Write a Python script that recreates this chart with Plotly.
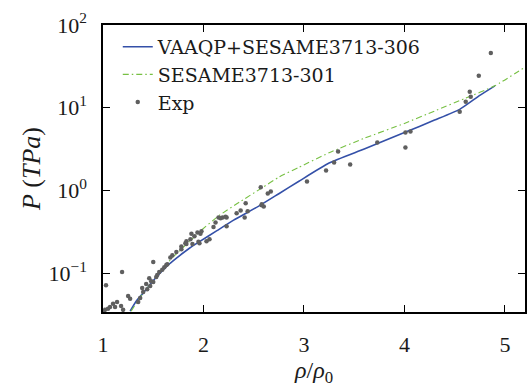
import plotly.graph_objects as go

# VAAQP+SESAME3713-306 curve
vaaqp_x = [1.27, 1.33, 1.40, 1.48, 1.56, 1.66, 1.76, 1.86, 1.96, 2.13, 2.30, 2.55, 2.75,
           2.95, 3.25, 3.60, 4.00, 4.30, 4.55, 4.75, 4.90]
vaaqp_y = [0.0347, 0.0457, 0.0575, 0.0759, 0.0977, 0.129, 0.162, 0.200, 0.240, 0.324, 0.437,
           0.646, 0.912, 1.29, 2.14, 3.16, 5.01, 7.08, 9.55, 14.1, 18.4]

# SESAME3713-301 curve
ses_x = [1.28, 1.40, 1.52, 1.64, 1.76, 1.86, 1.96, 2.16, 2.36, 2.58, 2.75, 2.95, 3.25,
         3.60, 4.00, 4.30, 4.60, 4.90, 5.20]
ses_y = [0.0347, 0.0575, 0.0871, 0.132, 0.186, 0.240, 0.316, 0.501, 0.724, 1.07, 1.445,
         1.905, 2.85, 4.27, 6.46, 9.12, 12.9, 18.4, 30.9]

# Experimental points
exp_x = [4.86, 4.74, 4.65, 4.66, 4.61, 4.55, 4.06, 4.01, 4.01, 3.73, 3.34, 3.30, 3.46, 3.22, 3.03,
         2.57, 2.67, 2.64, 2.58, 2.60, 2.42, 2.44, 2.37, 2.33, 2.41, 2.19, 2.23, 2.15, 2.22, 2.17,
         2.23, 2.12, 2.10, 1.98, 1.94, 1.97, 1.88, 1.91, 1.87, 2.06, 2.03, 1.95, 1.96, 1.83, 1.83,
         1.89, 1.78, 1.73, 1.69, 1.67,
         1.82, 1.78, 1.64, 1.50, 1.61, 1.56, 1.53, 1.50, 1.47, 1.44, 1.40, 1.39, 1.37, 1.35, 1.25,
         1.27, 1.19, 1.03, 1.14, 1.10, 1.12, 1.07, 1.05, 1.02, 1.20, 1.00, 1.18, 1.46, 1.43, 1.59,
         1.63, 1.54, 1.48, 2.58]
exp_y = [46, 24.3, 15.6, 13.6, 11.8, 8.95, 5.14, 5.0, 3.3, 3.79, 2.95, 2.17, 2.06, 1.74, 1.28,
         1.09, 0.97, 0.92, 0.66, 0.64, 0.70, 0.56, 0.57, 0.53, 0.47, 0.47, 0.47, 0.47, 0.48, 0.46,
         0.37, 0.41, 0.36, 0.32, 0.31, 0.30, 0.30, 0.28, 0.257, 0.257, 0.243, 0.24, 0.23, 0.243, 0.225,
         0.225, 0.195, 0.18, 0.165, 0.155,
         0.23, 0.21, 0.128, 0.136, 0.118, 0.103, 0.0895, 0.078, 0.0697, 0.064, 0.059, 0.066, 0.050,
         0.0448, 0.053, 0.049, 0.103, 0.0716, 0.0448, 0.0426, 0.039, 0.039, 0.037, 0.036, 0.036,
         0.0345, 0.040, 0.087, 0.074, 0.11, 0.125, 0.095, 0.08, 0.68]

x_ticks = [1, 2, 3, 4, 5]
y_ticks = [0.1, 1, 10, 100]
y_ticktext = ["10<sup>−1</sup>", "10<sup>0</sup>", "10<sup>1</sup>", "10<sup>2</sup>"]

serif = "Liberation Serif"
ink = "#1a1a1a"

fig = go.Figure()
fig.add_trace(go.Scatter(x=vaaqp_x, y=vaaqp_y, mode="lines", name="VAAQP+SESAME3713-306",
                         line=dict(color="#3450a8", width=1.6, shape="spline", smoothing=0.5)))
fig.add_trace(go.Scatter(x=ses_x, y=ses_y, mode="lines", name="SESAME3713-301",
                         line=dict(color="#77c043", width=1.1, dash="6px,3px,1.5px,3px",
                                   shape="spline", smoothing=0.5)))
fig.add_trace(go.Scatter(x=exp_x, y=exp_y, mode="markers", name="Exp",
                         marker=dict(color="#5f5f5f", size=4.5)))

axis_common = dict(showline=True, linecolor="black", linewidth=1.5, mirror="ticks",
                   ticks="inside", ticklen=7, tickwidth=1.2, tickcolor="black",
                   showgrid=False, zeroline=False,
                   tickfont=dict(family=serif, size=22, color=ink))

fig.update_xaxes(range=[1, 5.2], tickvals=x_ticks, ticktext=[str(v) for v in x_ticks],
                 title=dict(text="<i>ρ</i>/<i>ρ</i><sub>0</sub>",
                            font=dict(family=serif, size=24, color=ink), standoff=5),
                 ticklabelstandoff=12, **axis_common)
fig.update_yaxes(type="log", range=[-1.47, 2], tickvals=y_ticks, ticktext=y_ticktext,
                 title=dict(text="<i>P</i> (<i>TPa</i>)",
                            font=dict(family=serif, size=26, color=ink), standoff=0),
                 ticklabelstandoff=10, **axis_common)

fig.update_layout(
    width=532, height=392,
    margin=dict(l=103, r=5, t=25, b=80),
    plot_bgcolor="white", paper_bgcolor="white",
    legend=dict(x=0.035, y=0.99, xanchor="left", yanchor="top",
                bgcolor="rgba(0,0,0,0)", font=dict(family="DejaVu Serif", size=19, color=ink),
                itemwidth=30, tracegroupgap=0),
)

fig.write_html("out.html")
